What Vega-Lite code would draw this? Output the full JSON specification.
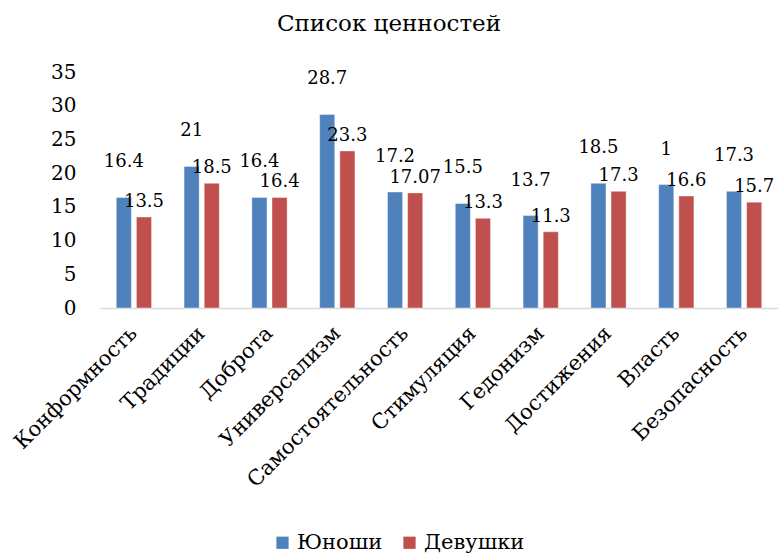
{
  "$schema": "https://vega.github.io/schema/vega-lite/v6.json",
  "autosize": "none",
  "width": 678,
  "height": 236,
  "padding": {"left": 100, "top": 72, "right": 0, "bottom": 249},
  "background": "white",
  "title": {"text": "Список ценностей", "font": "DejaVu Serif", "fontSize": 23, "fontWeight": "normal", "color": "#000000", "offset": 26, "dx": -50},
  "config": {
    "view": {"stroke": null},
    "font": "DejaVu Serif"
  },
  "data": {"values": [
    {"cat": "Конформность", "group": "Юноши", "value": 16.4, "label": "16.4"},
    {"cat": "Конформность", "group": "Девушки", "value": 13.5, "label": "13.5"},
    {"cat": "Традиции", "group": "Юноши", "value": 21, "label": "21"},
    {"cat": "Традиции", "group": "Девушки", "value": 18.5, "label": "18.5"},
    {"cat": "Доброта", "group": "Юноши", "value": 16.4, "label": "16.4"},
    {"cat": "Доброта", "group": "Девушки", "value": 16.4, "label": "16.4"},
    {"cat": "Универсализм", "group": "Юноши", "value": 28.7, "label": "28.7"},
    {"cat": "Универсализм", "group": "Девушки", "value": 23.3, "label": "23.3"},
    {"cat": "Самостоятельность", "group": "Юноши", "value": 17.2, "label": "17.2"},
    {"cat": "Самостоятельность", "group": "Девушки", "value": 17.07, "label": "17.07"},
    {"cat": "Стимуляция", "group": "Юноши", "value": 15.5, "label": "15.5"},
    {"cat": "Стимуляция", "group": "Девушки", "value": 13.3, "label": "13.3"},
    {"cat": "Гедонизм", "group": "Юноши", "value": 13.7, "label": "13.7"},
    {"cat": "Гедонизм", "group": "Девушки", "value": 11.3, "label": "11.3"},
    {"cat": "Достижения", "group": "Юноши", "value": 18.5, "label": "18.5"},
    {"cat": "Достижения", "group": "Девушки", "value": 17.3, "label": "17.3"},
    {"cat": "Власть", "group": "Юноши", "value": 18.3, "label": "1"},
    {"cat": "Власть", "group": "Девушки", "value": 16.6, "label": "16.6"},
    {"cat": "Безопасность", "group": "Юноши", "value": 17.3, "label": "17.3"},
    {"cat": "Безопасность", "group": "Девушки", "value": 15.7, "label": "15.7"}
  ]},
  "encoding": {
    "x": {
      "field": "cat", "type": "nominal", "sort": null, "title": null,
      "scale": {"paddingInner": 0.48, "paddingOuter": 0.24},
      "axis": {"labelAngle": -45, "labelFontSize": 21, "labelColor": "#000000", "ticks": false, "domainColor": "#D9D9D9", "domainWidth": 1.5, "labelPadding": 22, "labelAlign": "right", "labelBaseline": "middle", "labelLimit": 300}
    },
    "xOffset": {"field": "group", "type": "nominal", "sort": ["Юноши", "Девушки"], "scale": {"paddingInner": 0.25}},
    "y": {
      "field": "value", "type": "quantitative", "title": null,
      "scale": {"domain": [0, 35], "nice": false},
      "axis": {"values": [0, 5, 10, 15, 20, 25, 30, 35], "grid": false, "domain": false, "ticks": false, "labelFontSize": 20, "labelColor": "#000000", "labelPadding": 24}
    }
  },
  "layer": [
    {
      "mark": {"type": "bar", "stroke": "#ffffff", "strokeOpacity": 0.4, "strokeWidth": 1},
      "encoding": {
        "color": {
          "field": "group", "type": "nominal", "sort": ["Юноши", "Девушки"],
          "scale": {"domain": ["Юноши", "Девушки"], "range": ["#4F81BD", "#C0504D"]},
          "legend": {"title": null, "orient": "none", "direction": "horizontal", "legendX": 172, "legendY": 460, "symbolType": "square", "symbolSize": 150, "symbolStrokeWidth": 0, "labelFontSize": 21, "labelColor": "#000000", "columnPadding": 16, "labelOffset": 4}
        }
      }
    },
    {
      "transform": [{"filter": "datum.group === 'Юноши'"}],
      "mark": {"type": "text", "fontSize": 18, "color": "#000000", "baseline": "alphabetic", "dy": -30, "dx": 0},
      "encoding": {"text": {"field": "label"}}
    },
    {
      "transform": [{"filter": "datum.group === 'Девушки'"}],
      "mark": {"type": "text", "fontSize": 18, "color": "#000000", "baseline": "alphabetic", "dy": -10, "dx": 0},
      "encoding": {"text": {"field": "label"}}
    }
  ]
}
